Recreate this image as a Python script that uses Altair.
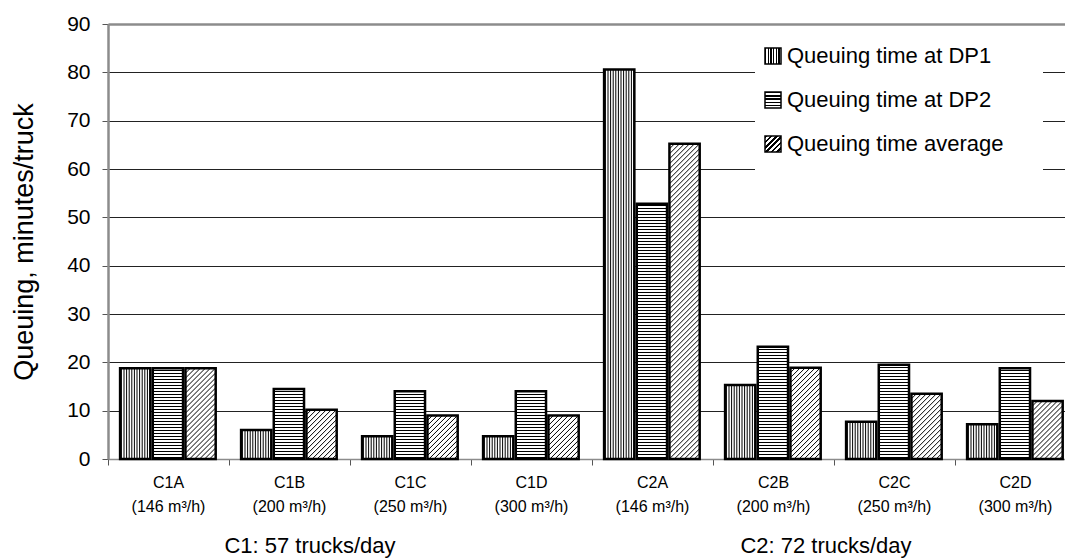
import altair as alt
import numpy as np
import pandas as pd

# ---- data -----------------------------------------------------------------
categories = ["C1A", "C1B", "C1C", "C1D", "C2A", "C2B", "C2C", "C2D"]
capacities = ["(146 m³/h)", "(200 m³/h)", "(250 m³/h)", "(300 m³/h)",
              "(146 m³/h)", "(200 m³/h)", "(250 m³/h)", "(300 m³/h)"]
series = ["Queuing time at DP1", "Queuing time at DP2", "Queuing time average"]
queue_dp1 = [18.8, 6.0, 4.7, 4.7, 80.6, 15.3, 7.7, 7.2]
queue_dp2 = [18.8, 14.5, 14.0, 14.0, 52.8, 23.2, 19.5, 18.8]
queue_avg = [18.8, 10.2, 9.0, 9.0, 65.2, 18.9, 13.5, 12.0]
scenarios = ["C1: 57 trucks/day", "C2: 72 trucks/day"]
scenario_members = [[0, 1, 2, 3], [4, 5, 6, 7]]

# ---- layout / style -------------------------------------------------------
FONT = "Liberation Sans"
W, H = 957, 435             # plot area in px
GROUP_PX = 121              # px per category group
X_MAX = W / GROUP_PX
Y_MAX = 90
PX_X = GROUP_PX
PX_Y = H / Y_MAX
BAR_START, BAR_STEP, BAR_W = 0.1, 0.27, 0.25

values = [queue_dp1, queue_dp2, queue_avg]

bar_rows = []
hatch_rows = []
for g, cat in enumerate(categories):
    for j, s in enumerate(series):
        v = values[j][g]
        xa = g + BAR_START + j * BAR_STEP
        xb = xa + BAR_W
        bar_rows.append(dict(xa=xa, xb=xb, ya=0.0, yb=v, series=s, cat=cat))
        if j == 0:
            # vertical hatching
            step = 2.6 / PX_X
            x = xa + step / 2
            while x < xb:
                hatch_rows.append(dict(xa=x, xb=x, ya=0.0, yb=v))
                x += step
        elif j == 1:
            # horizontal hatching
            step = 3.0 / PX_Y
            y = step / 2
            while y < v:
                hatch_rows.append(dict(xa=xa, xb=xb, ya=y, yb=y))
                y += step
        else:
            # diagonal hatching, 45 degrees on screen
            w_px = BAR_W * PX_X
            h_px = v * PX_Y
            for c in np.arange(-h_px, w_px, 5.0):
                y_lo = max(0.0, -c)
                y_hi = min(h_px, w_px - c)
                if y_hi > y_lo:
                    hatch_rows.append(dict(
                        xa=xa + (y_lo + c) / PX_X, ya=y_lo / PX_Y,
                        xb=xa + (y_hi + c) / PX_X, yb=y_hi / PX_Y))

bars = pd.DataFrame(bar_rows)
hatch = pd.DataFrame(hatch_rows)

x_scale = alt.Scale(domain=[0, X_MAX], nice=False, zero=False)
y_scale = alt.Scale(domain=[0, Y_MAX], nice=False)

x_axis = alt.Axis(values=list(range(8)), labels=False, grid=False, title=None,
                  domainColor="#8c8c8c", domainWidth=1.5,
                  tickColor="#555555", tickSize=6, tickWidth=1)
y_axis = alt.Axis(
    values=list(range(0, 91, 10)), title="Queuing, minutes/truck",
    grid=True,
    gridColor={"condition": {"test": "datum.value >= 90", "value": "#8c8c8c"},
               "value": "#222222"},
    gridWidth={"condition": {"test": "datum.value >= 90", "value": 2.5},
               "value": 1},
    domainColor="#8c8c8c", domainWidth=2.5,
    tickColor="#555555", tickSize=6, tickWidth=1,
    labelFont=FONT, labelFontSize=21, labelColor="black", labelPadding=12,
    titleFont=FONT, titleFontSize=27, titleFontWeight="normal",
    titleColor="black", titlePadding=28,
)


def rect_enc():
    return dict(
        x=alt.X("xa:Q", scale=x_scale, axis=x_axis),
        x2="xb:Q",
        y=alt.Y("ya:Q", scale=y_scale, axis=y_axis),
        y2="yb:Q",
    )


bar_fill = alt.Chart(bars).mark_rect(fill="white", stroke=None).encode(**rect_enc())
hatch_lines = alt.Chart(hatch).mark_rule(color="black", strokeWidth=1).encode(**rect_enc())
bar_outline = alt.Chart(bars).mark_rect(
    fill="white", fillOpacity=0, stroke="black", strokeWidth=2.5
).encode(**rect_enc())

# category labels under each group
cat_df = pd.DataFrame({
    "xc": [g + 0.5 for g in range(len(categories))],
    "label": [f"{c}\n{p}" for c, p in zip(categories, capacities)],
})
cat_text = alt.Chart(cat_df).mark_text(
    font=FONT, fontSize=16, lineBreak="\n", lineHeight=24,
    baseline="middle", align="center", color="black"
).encode(
    x=alt.X("xc:Q", scale=x_scale, axis=x_axis),
    y=alt.value(H + 24),
    text="label:N",
)

# scenario labels
scen_layers = []
for name, members, shift in zip(scenarios, scenario_members, [-40, -8]):
    sdf = pd.DataFrame({"xc": [np.mean(members) + 0.5], "label": [name]})
    scen_layers.append(
        alt.Chart(sdf).mark_text(
            font=FONT, fontSize=22, baseline="middle", align="center",
            color="black", dx=shift
        ).encode(
            x=alt.X("xc:Q", scale=x_scale, axis=x_axis),
            y=alt.value(H + 87),
            text="label:N",
        )
    )


def stripes(n, x1, y1, x2, y2, frac=0.45):
    stops = []
    for i in range(n):
        a, b, c = i / n, (i + frac) / n, (i + 1) / n
        stops += [alt.GradientStop(color="black", offset=a),
                  alt.GradientStop(color="black", offset=b),
                  alt.GradientStop(color="white", offset=b),
                  alt.GradientStop(color="white", offset=c)]
    return alt.LinearGradient(gradient="linear", stops=stops,
                              x1=x1, y1=y1, x2=x2, y2=y2)


swatch_fills = [stripes(6, 0, 0, 1, 0), stripes(5, 0, 0, 0, 1), stripes(6, 0, 0, 1, 1)]

one = pd.DataFrame({"k": [0]})
legend_layers = [
    alt.Chart(one).mark_rect(fill="white").encode(
        x=alt.value(647), x2=alt.value(935), y=alt.value(4), y2=alt.value(160))
]
for i, (s, fill) in enumerate(zip(series, swatch_fills)):
    cy = 32 + 44 * i
    legend_layers.append(
        alt.Chart(one).mark_rect(fill=fill, stroke="black", strokeWidth=1.5).encode(
            x=alt.value(657), x2=alt.value(673),
            y=alt.value(cy - 8), y2=alt.value(cy + 8))
    )
    ldf = pd.DataFrame({"label": [s]})
    legend_layers.append(
        alt.Chart(ldf).mark_text(
            font=FONT, fontSize=22, align="left", baseline="middle", color="black"
        ).encode(x=alt.value(679), y=alt.value(cy), text="label:N")
    )

chart = alt.layer(
    bar_fill, hatch_lines, bar_outline, cat_text, *scen_layers, *legend_layers
).properties(
    width=W, height=H,
    autosize=alt.AutoSizeParams(type="none"),
    padding={"left": 108, "top": 24, "right": 0, "bottom": 100},
    background="white",
).configure_view(stroke=None).configure(font=FONT)

chart.save("out.html", embed_options={"renderer": "svg", "actions": False})
